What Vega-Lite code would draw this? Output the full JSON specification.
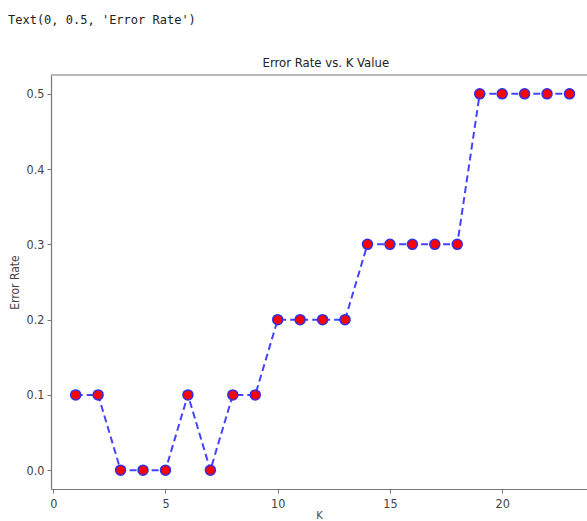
{
  "$schema": "https://vega.github.io/schema/vega-lite/v6.json",
  "background": "white",
  "padding": {"left": 8, "top": 14, "right": 0, "bottom": 0},
  "title": {
    "text": "Text(0, 0.5, 'Error Rate')",
    "anchor": "start",
    "frame": "group",
    "dx": -43,
    "font": "DejaVu Sans Mono",
    "fontSize": 12,
    "fontWeight": "normal",
    "color": "#222222",
    "offset": 30
  },
  "datasets": {
    "err": [
      {"K": 1, "rate": 0.1}, {"K": 2, "rate": 0.1}, {"K": 3, "rate": 0.0}, {"K": 4, "rate": 0.0},
      {"K": 5, "rate": 0.0}, {"K": 6, "rate": 0.1}, {"K": 7, "rate": 0.0}, {"K": 8, "rate": 0.1},
      {"K": 9, "rate": 0.1}, {"K": 10, "rate": 0.2}, {"K": 11, "rate": 0.2}, {"K": 12, "rate": 0.2},
      {"K": 13, "rate": 0.2}, {"K": 14, "rate": 0.3}, {"K": 15, "rate": 0.3}, {"K": 16, "rate": 0.3},
      {"K": 17, "rate": 0.3}, {"K": 18, "rate": 0.3}, {"K": 19, "rate": 0.5}, {"K": 20, "rate": 0.5},
      {"K": 21, "rate": 0.5}, {"K": 22, "rate": 0.5}, {"K": 23, "rate": 0.5}
    ]
  },
  "vconcat": [
    {
      "width": 536,
      "height": 414,
      "title": {
        "text": "Error Rate vs. K Value",
        "anchor": "middle",
        "frame": "bounds",
        "font": "DejaVu Sans Condensed",
        "fontSize": 13,
        "fontWeight": "normal",
        "color": "#222222",
        "dx": 28,
        "offset": 4
      },
      "layer": [
        {
          "data": {"values": [{}]},
          "mark": {"type": "rule", "color": "#777777", "strokeWidth": 1.2},
          "encoding": {
            "y": {"datum": 0.525, "type": "quantitative", "scale": {"domain": [-0.025, 0.525], "nice": false, "zero": false}}
          }
        },
        {
          "data": {"name": "err"},
          "mark": {"type": "line", "color": "#4444ff", "strokeWidth": 2, "strokeDash": [7, 4]},
          "encoding": {
            "x": {"field": "K", "type": "quantitative"},
            "y": {"field": "rate", "type": "quantitative"}
          }
        },
        {
          "data": {"name": "err"},
          "mark": {"type": "point", "filled": true, "fill": "#ff0000", "stroke": "#3030e8", "strokeWidth": 1.5, "size": 100, "opacity": 1, "fillOpacity": 1},
          "encoding": {
            "x": {
              "field": "K", "type": "quantitative", "title": "K",
              "scale": {"domain": [-0.1, 23.78], "nice": false, "zero": false},
              "axis": {"values": [0, 5, 10, 15, 20], "format": "d", "grid": false, "labelPadding": 4, "titlePadding": 0, "titleFontSize": 11}
            },
            "y": {
              "field": "rate", "type": "quantitative", "title": "Error Rate",
              "scale": {"domain": [-0.025, 0.525], "nice": false, "zero": false},
              "axis": {"values": [0, 0.1, 0.2, 0.3, 0.4, 0.5], "format": ".1f", "grid": false, "titlePadding": 5}
            }
          }
        }
      ]
    }
  ],
  "config": {
    "view": {"stroke": null},
    "axis": {
      "domainColor": "#777777",
      "domainWidth": 1.2,
      "tickColor": "#777777",
      "tickSize": 4,
      "labelFont": "DejaVu Sans Condensed",
      "labelFontSize": 12.5,
      "labelColor": "#444444",
      "labelPadding": 3,
      "titleFont": "DejaVu Sans Condensed",
      "titleFontSize": 12,
      "titleFontWeight": "normal",
      "titleColor": "#444444"
    }
  }
}
